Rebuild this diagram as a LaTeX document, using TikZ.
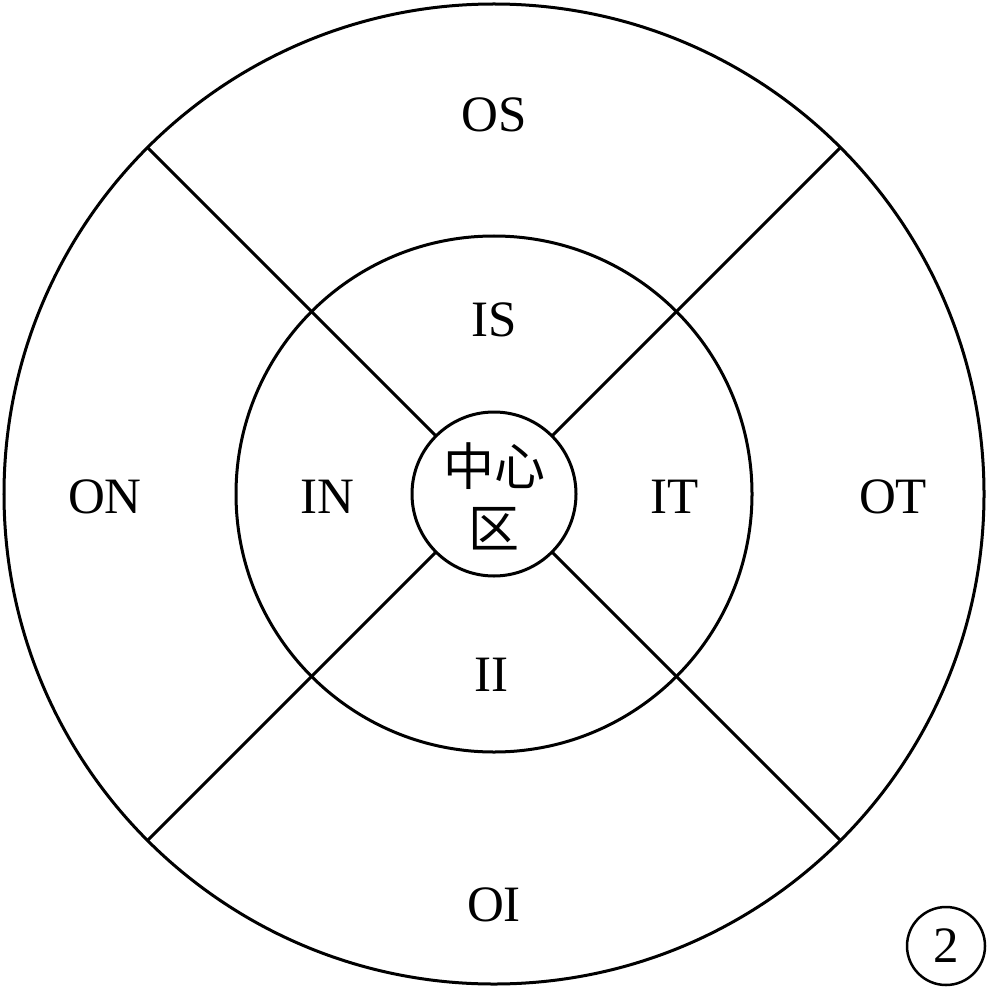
\documentclass[tikz,border=0pt]{standalone}
\usepackage{fontspec}
\setmainfont{Liberation Serif}
\newfontfamily\cjk{Noto Sans CJK SC}
\begin{document}
\begin{tikzpicture}[x=0.01cm,y=-0.01cm,
  ring/.style={draw=black,line width=0.03cm},
  spoke/.style={draw=black,line width=0.03cm},
  lab/.style={inner sep=0pt,font=\fontsize{14.5}{17}\selectfont},
  cjklab/.style={inner sep=0pt,align=center,font=\cjk\fontsize{14.5}{17.6}\selectfont}]
\useasboundingbox (0,0) rectangle (988,988);
\coordinate (c) at (494,494);
\draw[ring] (c) circle[radius=490];
\draw[ring] (c) circle[radius=258];
\draw[ring] (c) circle[radius=82];
\foreach \a/\n in {45/a,135/b,225/d,315/e}{
  \coordinate (in\n) at ([shift={(\a:82)}]c);
  \coordinate (out\n) at ([shift={(\a:490)}]c);
  \draw[spoke] (in\n) -- (out\n);
}
\node[lab] (os) at (494,115) {OS};
\node[lab] (is) at (494,320) {IS};
\node[lab] (on) at (105,497) {ON};
\node[lab] (inl) at (327,497) {IN};
\node[lab] (it) at (675,497) {IT};
\node[lab] (ot) at (893,497) {OT};
\node[lab] (ii) at (491,675) {II};
\node[lab] (oi) at (494,905) {OI};
\node[cjklab] (ctr) at (494,496) {中心\\区};
\node[lab,draw,circle,line width=0.025cm,minimum size=78*0.01cm] (two) at (946,946) {2};
\end{tikzpicture}
\end{document}
